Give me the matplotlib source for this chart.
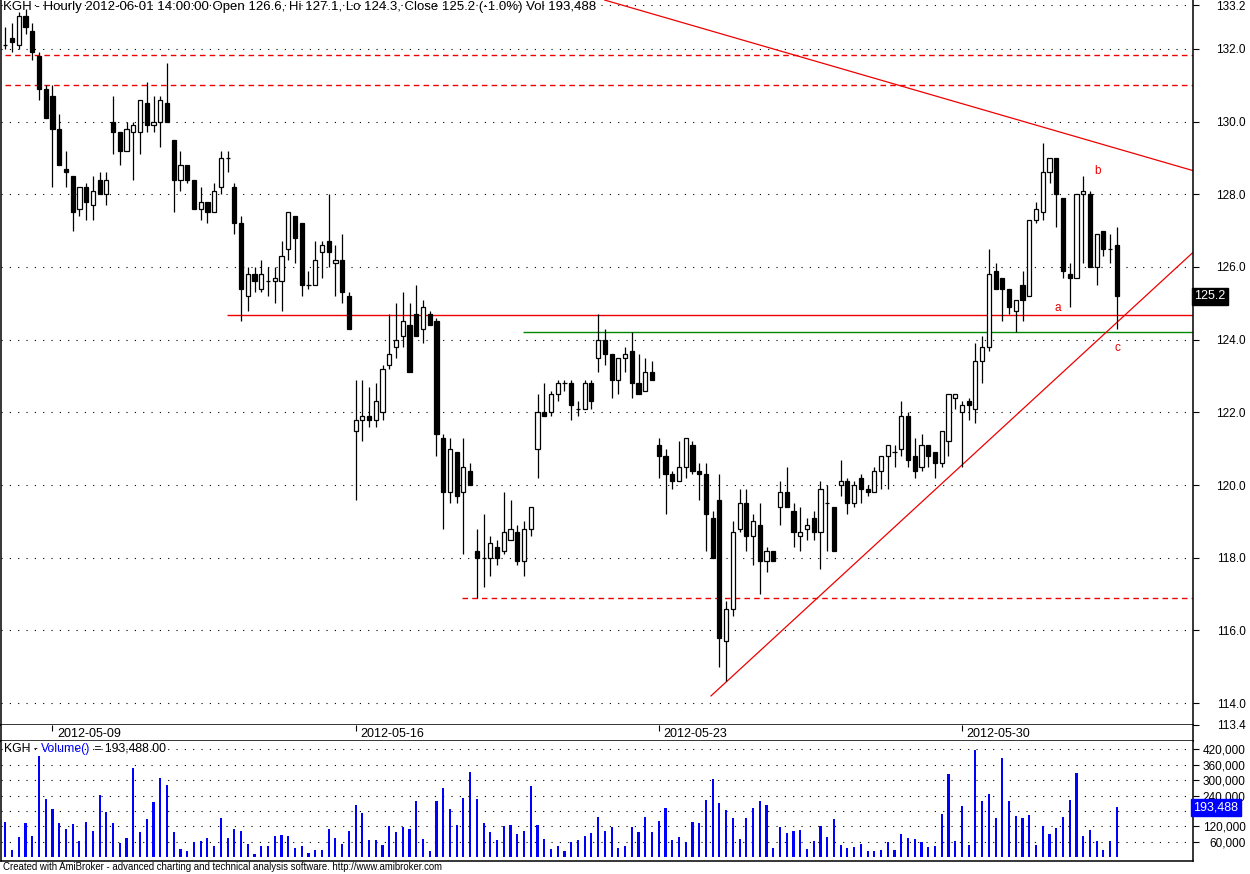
import numpy as np
import matplotlib.pyplot as plt

plt.rcParams['font.family'] = ['Liberation Sans', 'DejaVu Sans']

# KGH hourly bars, 2012-05-08 .. 2012-06-01 14:00
opens = [132.1, 132.3, 132.1, 132.9, 132.5, 131.8, 130.9, 130.7, 129.8, 128.7,
         128.5, 127.6, 128.2, 127.7, 128.4, 128.0, 130.0, 129.7, 129.2, 129.7,
         129.7, 130.5, 129.9, 130.0, 130.5, 129.5, 128.4, 128.8, 128.4, 127.6,
         127.8, 127.5, 128.2, 129.0, 128.2, 127.2, 125.2, 125.8, 125.4, 125.6,
         125.6, 125.6, 126.5, 127.4, 127.2, 125.5, 125.5, 126.4, 126.7, 126.1,
         126.2, 125.2, 121.5, 121.8, 121.9, 121.8, 122.0, 123.3, 123.8, 124.1,
         124.4, 124.7, 124.3, 124.7, 124.5, 121.3, 119.8, 120.9, 119.8, 120.4,
         118.2, 118.0, 118.0, 118.3, 118.2, 118.5, 118.7, 117.9, 118.8, 121.0,
         122.0, 122.0, 122.5, 122.8, 122.8, 122.1, 122.1, 122.8, 123.5, 124.0,
         123.6, 122.9, 123.5, 123.7, 122.8, 122.6, 123.1, 121.1, 120.8, 120.3,
         120.1, 120.5, 121.1, 120.4, 120.3, 119.1, 119.6, 115.7, 116.6, 118.8,
         119.5, 118.6, 118.9, 117.9, 118.2, 119.4, 119.8, 119.3, 118.6, 118.8,
         119.1, 118.7, 119.5, 119.4, 120.0, 120.1, 119.5, 120.2, 119.9, 119.8,
         120.4, 120.8, 120.9, 121.0, 121.9, 120.8, 120.5, 121.1, 120.9, 120.6,
         121.2, 122.4, 122.0, 122.3, 122.1, 123.4, 123.8, 125.9, 125.7, 125.4,
         124.8, 125.5, 125.2, 127.3, 127.5, 128.6, 129.0, 127.9, 125.8, 125.7,
         128.0, 128.0, 126.0, 127.0, 126.5, 126.6]
highs = [132.6, 132.7, 133.0, 133.1, 132.7, 131.9, 131.0, 131.0, 130.2, 129.2,
         128.5, 128.2, 128.3, 128.5, 128.6, 128.6, 130.7, 129.7, 130.0, 130.0,
         130.6, 131.1, 130.7, 130.7, 131.6, 129.5, 129.2, 128.8, 128.4, 128.2,
         127.8, 128.3, 129.2, 129.2, 128.3, 127.4, 126.0, 126.0, 126.2, 126.0,
         126.0, 126.7, 127.5, 127.4, 127.2, 125.9, 126.7, 126.7, 128.0, 126.6,
         126.9, 125.3, 122.9, 122.9, 122.7, 122.8, 123.3, 124.7, 125.0, 125.3,
         125.0, 125.5, 125.1, 124.8, 124.6, 121.4, 121.3, 120.9, 121.3, 120.6,
         118.8, 119.2, 118.6, 118.5, 119.8, 119.6, 118.9, 119.0, 119.4, 122.5,
         122.8, 122.6, 122.9, 122.9, 122.9, 122.3, 122.9, 122.9, 124.7, 124.3,
         123.6, 123.5, 123.8, 124.2, 123.6, 123.5, 123.4, 121.3, 121.0, 120.4,
         121.2, 121.3, 121.2, 120.6, 120.6, 119.3, 120.3, 116.8, 119.0, 119.9,
         119.9, 119.2, 119.5, 118.3, 118.2, 120.1, 120.5, 119.5, 119.4, 119.1,
         119.3, 120.1, 120.0, 119.4, 120.7, 120.2, 120.1, 120.3, 120.0, 120.5,
         120.8, 121.1, 121.1, 122.3, 122.0, 121.3, 121.4, 121.1, 120.9, 121.5,
         122.5, 122.5, 122.3, 122.4, 123.9, 124.1, 126.5, 126.1, 125.7, 125.4,
         125.1, 125.9, 127.3, 127.8, 129.4, 129.0, 129.0, 127.9, 126.1, 128.0,
         128.5, 128.1, 126.9, 127.0, 126.9, 127.1]
lows = [132.0, 131.9, 132.0, 132.4, 131.7, 130.6, 130.1, 128.2, 128.8, 128.2,
        127.0, 127.4, 127.3, 127.3, 128.0, 127.7, 129.1, 128.8, 129.2, 128.4,
        129.1, 129.7, 129.7, 129.3, 130.0, 127.5, 128.1, 128.3, 127.6, 127.3,
        127.2, 127.5, 128.0, 128.6, 126.9, 124.5, 124.8, 125.3, 125.3, 125.2,
        125.0, 124.8, 126.2, 126.1, 125.2, 125.4, 125.5, 125.7, 126.0, 125.2,
        125.0, 124.3, 119.6, 121.2, 121.6, 121.6, 121.8, 123.2, 123.5, 123.8,
        123.1, 124.1, 123.9, 124.4, 120.8, 118.8, 119.5, 119.5, 118.1, 120.0,
        116.9, 117.2, 117.5, 117.8, 118.1, 118.5, 117.8, 117.5, 118.6, 120.2,
        121.9, 121.9, 122.3, 122.6, 121.8, 121.9, 122.1, 122.1, 123.1, 123.3,
        122.4, 122.5, 123.1, 122.4, 122.5, 122.6, 122.9, 120.2, 119.2, 119.9,
        120.1, 120.2, 120.3, 119.6, 118.2, 118.0, 115.0, 114.6, 116.4, 118.7,
        118.2, 117.8, 117.0, 117.6, 117.9, 118.9, 119.4, 118.3, 118.2, 118.5,
        118.5, 117.7, 118.2, 118.2, 119.7, 119.2, 119.4, 119.5, 119.7, 119.8,
        119.9, 119.9, 120.5, 120.8, 120.5, 120.2, 120.4, 120.5, 120.2, 120.5,
        120.8, 122.1, 120.5, 121.8, 121.7, 122.8, 123.7, 125.4, 124.5, 124.7,
        124.2, 124.5, 125.2, 127.2, 127.3, 128.3, 127.1, 125.7, 124.9, 125.7,
        126.1, 126.0, 125.5, 126.3, 126.1, 124.3]
closes = [132.1, 132.2, 132.9, 132.6, 131.9, 130.9, 130.1, 129.8, 128.8, 128.6,
          127.5, 128.2, 127.8, 128.1, 128.0, 128.4, 129.7, 129.2, 129.8, 129.9,
          130.6, 129.9, 130.0, 130.6, 130.0, 128.4, 128.8, 128.4, 127.6, 127.8,
          127.5, 128.1, 129.0, 129.0, 127.2, 125.4, 125.8, 125.6, 125.8, 125.6,
          125.7, 126.3, 127.5, 126.8, 125.5, 125.5, 126.2, 126.6, 126.4, 126.2,
          125.3, 124.3, 121.8, 121.9, 121.8, 122.3, 123.2, 123.6, 124.0, 124.5,
          123.1, 124.1, 124.9, 124.4, 121.4, 119.8, 121.0, 119.7, 120.5, 120.0,
          118.0, 118.0, 118.4, 118.0, 118.7, 118.8, 117.9, 118.8, 119.4, 122.0,
          121.9, 122.5, 122.8, 122.8, 122.2, 122.1, 122.8, 122.3, 124.0, 123.6,
          122.9, 123.5, 123.6, 122.8, 122.5, 123.1, 122.9, 120.8, 120.3, 120.1,
          120.5, 121.3, 120.4, 120.3, 119.2, 118.0, 115.8, 116.6, 118.7, 119.5,
          118.6, 119.0, 117.9, 118.2, 117.9, 119.8, 119.4, 118.7, 118.7, 118.9,
          118.7, 119.9, 119.5, 118.2, 120.1, 119.5, 120.0, 119.9, 119.8, 120.4,
          120.8, 121.1, 120.9, 121.9, 120.7, 120.4, 121.1, 120.8, 120.6, 121.5,
          122.5, 122.5, 122.2, 122.2, 123.4, 123.8, 125.8, 125.4, 125.4, 124.9,
          125.1, 125.1, 127.3, 127.6, 128.6, 129.0, 128.0, 125.9, 125.7, 128.0,
          128.1, 126.0, 126.9, 126.5, 126.5, 125.2]
volumes = [136000, 30000, 80000, 132000, 84000, 392000, 226000, 187000, 132000, 108000,
           128000, 65000, 136000, 102000, 243000, 175000, 132000, 54000, 73000, 347000,
           97000, 147000, 214000, 308000, 282000, 97000, 34000, 26000, 61000, 65000,
           73000, 42000, 154000, 73000, 108000, 103000, 50000, 14000, 42000, 42000,
           81000, 85000, 81000, 38000, 42000, 18000, 30000, 30000, 108000, 73000,
           50000, 103000, 202000, 171000, 68000, 68000, 46000, 120000, 100000, 119000,
           110000, 220000, 72000, 25000, 217000, 271000, 189000, 127000, 232000, 330000,
           228000, 134000, 99000, 68000, 123000, 127000, 91000, 103000, 275000, 127000,
           72000, 33000, 44000, 25000, 60000, 68000, 84000, 95000, 158000, 103000,
           119000, 37000, 44000, 119000, 99000, 158000, 99000, 142000, 193000, 68000,
           80000, 60000, 138000, 134000, 224000, 303000, 209000, 185000, 154000, 72000,
           154000, 193000, 220000, 205000, 37000, 119000, 95000, 103000, 107000, 33000,
           64000, 123000, 80000, 150000, 48000, 37000, 40000, 52000, 25000, 25000,
           29000, 60000, 29000, 91000, 76000, 72000, 60000, 40000, 44000, 170000,
           322000, 64000, 201000, 48000, 416000, 220000, 244000, 154000, 385000, 220000,
           162000, 154000, 166000, 48000, 123000, 91000, 115000, 158000, 224000, 326000,
           84000, 107000, 64000, 29000, 64000, 193488]

date_labels = ['2012-05-09', '2012-05-16', '2012-05-23', '2012-05-30']
date_bars = [7, 52, 97, 142]
price_ticks = [133.2, 132.0, 130.0, 128.0, 126.0, 124.0, 122.0, 120.0, 118.0, 116.0, 114.0, 113.4]
vol_ticks = [60000, 120000, 180000, 240000, 300000, 360000, 420000]
vol_tick_labels = ['60,000', '120,000', '', '240,000', '300,000', '360,000', '420,000']

# drawn studies: (start bar, level)
red_level = (32.9, 124.68)
green_level = (76.8, 124.22)
red_dashed = [(0, 131.82), (0, 131.0), (67.8, 116.9)]
down_trend = ([89.0, 176.3], [133.34, 128.65])
up_trend = ([104.75, 176.3], [114.2, 126.4])
wave_labels = [('a', 156.2, 124.87), ('b', 162.1, 128.65), ('c', 165.05, 123.76)]

x = np.arange(len(opens))
o = np.array(opens)
c = np.array(closes)
xmin, xmax = -0.64, 176.3

fig = plt.figure(figsize=(12.5, 8.74), dpi=100)
W, H = 1250, 874
ax = fig.add_axes([1 / W, 1 - 725 / H, 1192 / W, 725 / H])
ax_d = fig.add_axes([1 / W, 1 - 741 / H, 1192 / W, 16 / H])
ax_v = fig.add_axes([1 / W, 1 - 861 / H, 1192 / W, 120 / H])

dots = (0, (1, 6.5))

# ---- price panel
for t in price_ticks[:-1]:
    ax.axhline(t, color='black', lw=0.8, ls=dots, zorder=1)

ax.vlines(x, lows, highs, color='black', lw=0.9, zorder=3)
up = c >= o
ax.bar(x, np.abs(c - o), bottom=np.minimum(o, c), width=0.62,
       color=np.where(up, 'white', 'black'), edgecolor='black', linewidth=0.9, zorder=4)

ax.hlines(red_level[1], red_level[0], xmax, color='#ee0000', lw=1, zorder=2)
ax.hlines(green_level[1], green_level[0], xmax, color='#008800', lw=1, zorder=2)
for x0, lvl in red_dashed:
    ax.hlines(lvl, x0, xmax, color='#ee0000', lw=1, ls=(0, (4, 3)), zorder=2)
ax.plot(*down_trend, color='#ee0000', lw=0.9, zorder=2)
ax.plot(*up_trend, color='#ee0000', lw=0.9, zorder=2)
for s, bx, lvl in wave_labels:
    ax.text(bx, lvl, s, color='#ee0000', fontsize=8.5, ha='center', va='center', zorder=6)

ax.set_xlim(xmin, xmax)
ax.set_ylim(113.426, 133.343)
ax.set_xticks([])
ax.yaxis.tick_right()
ax.set_yticks(price_ticks)
ax.set_yticklabels([f'{t:.1f}' for t in price_ticks])
ax.tick_params(axis='y', direction='out', length=4, width=0.8, pad=34, labelsize=8.5)
for lab in ax.get_yticklabels():
    lab.set_horizontalalignment('right')
ax.spines['top'].set_visible(False)
for s in ['left', 'right', 'bottom']:
    ax.spines[s].set_linewidth(1.1)

ax.text(1.001, closes[-1], f'{closes[-1]:.1f}', transform=ax.get_yaxis_transform(),
        color='white', fontsize=9, ha='left', va='center', zorder=10, clip_on=False,
        bbox=dict(boxstyle='square,pad=0.2', fc='black', ec='black'))

fig.text(3 / W, 1 - 1 / H,
         'KGH - Hourly 2012-06-01 14:00:00 Open 126.6, Hi 127.1, Lo 124.3, '
         'Close 125.2 (-1.0%) Vol 193,488',
         fontsize=9.5, va='top', ha='left')

# ---- date strip
ax_d.set_xlim(xmin, xmax)
ax_d.set_ylim(0, 1)
ax_d.set_yticks([])
ax_d.set_xticks(date_bars)
ax_d.tick_params(axis='x', direction='in', top=True, bottom=False, length=4, width=0.8,
                 labeltop=False, labelbottom=False)
for b, lab in zip(date_bars, date_labels):
    ax_d.text(b + 0.7, 0.42, lab, fontsize=9, ha='left', va='center')
ax_d.spines['top'].set_visible(False)
for s in ['left', 'right', 'bottom']:
    ax_d.spines[s].set_linewidth(1.1)

# ---- volume panel
for t in vol_ticks:
    ax_v.axhline(t, color='black', lw=0.8, ls=dots, zorder=1)
ax_v.bar(x, volumes, width=0.32, color='#0000ff', zorder=3)
ax_v.set_xlim(xmin, xmax)
ax_v.set_ylim(-14400, 451700)
ax_v.set_xticks([])
ax_v.yaxis.tick_right()
ax_v.set_yticks(vol_ticks)
ax_v.set_yticklabels(vol_tick_labels)
ax_v.tick_params(axis='y', direction='out', length=4, width=0.8, pad=34, labelsize=8.5)
for lab in ax_v.get_yticklabels():
    lab.set_horizontalalignment('right')
ax_v.spines['top'].set_visible(False)
for s in ['left', 'right', 'bottom']:
    ax_v.spines[s].set_linewidth(1.1)

ax_v.text(1.0, volumes[-1], f'{volumes[-1]:,}', transform=ax_v.get_yaxis_transform(),
          color='white', fontsize=9, ha='left', va='center', zorder=10, clip_on=False,
          bbox=dict(boxstyle='square,pad=0.2', fc='#0000ff', ec='#0000ff'))

t1 = ax_v.text(3 / 1192, 0.985, 'KGH - ', transform=ax_v.transAxes, fontsize=8.8,
               ha='left', va='top')
t2 = ax_v.annotate('Volume()', xy=(1, 0), xycoords=t1, fontsize=8.8, color='#0000ff',
                   ha='left', va='bottom')
ax_v.annotate(' = 193,488.00', xy=(1, 0), xycoords=t2, fontsize=8.8,
              ha='left', va='bottom')

fig.text(3 / W, 1 - 867 / H,
         'Created with AmiBroker - advanced charting and technical analysis software. '
         'http://www.amibroker.com',
         fontsize=6.9, va='center', ha='left')

fig.savefig('out.png', dpi=100)
